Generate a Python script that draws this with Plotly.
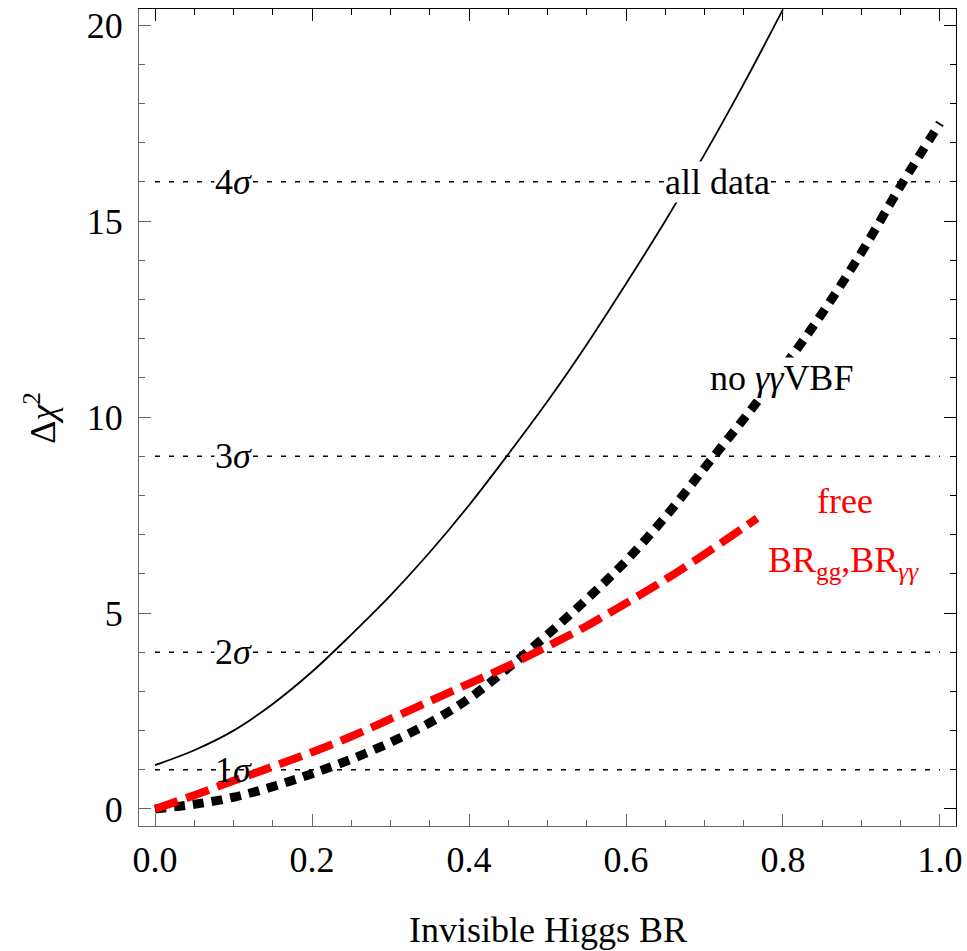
import plotly.graph_objects as go

# Delta chi^2 profiles versus the invisible Higgs branching ratio
br_all = [0.0, 0.05, 0.1, 0.15, 0.2, 0.25, 0.3, 0.35, 0.4, 0.45, 0.5, 0.55, 0.6, 0.65, 0.7, 0.75, 0.8]
chi2_all = [1.12, 1.5, 2.0, 2.68, 3.5, 4.45, 5.45, 6.55, 7.75, 9.05, 10.4, 11.85, 13.4, 15.0, 16.7, 18.5, 20.4]

br_novbf = [0.0, 0.05, 0.1, 0.15, 0.2, 0.25, 0.3, 0.35, 0.4, 0.45, 0.5, 0.55, 0.6, 0.65, 0.7, 0.75, 0.8,
            0.85, 0.9, 0.95, 1.0]
chi2_novbf = [0.0, 0.12, 0.3, 0.57, 0.9, 1.27, 1.7, 2.2, 2.82, 3.6, 4.45, 5.35, 6.33, 7.45, 8.7, 9.95, 11.25,
              12.65, 14.2, 15.9, 17.5]

br_free = [0.0, 0.05, 0.1, 0.15, 0.2, 0.25, 0.3, 0.35, 0.4, 0.45, 0.5, 0.55, 0.6, 0.65, 0.7, 0.75, 0.767]
chi2_free = [0.0, 0.35, 0.72, 1.08, 1.45, 1.85, 2.3, 2.75, 3.2, 3.65, 4.15, 4.67, 5.25, 5.85, 6.5, 7.18, 7.42]

# n-sigma reference levels
sigma_levels = [1, 4, 9, 16]
sigma_names = ["1", "2", "3", "4"]

x_ticks = [0.0, 0.2, 0.4, 0.6, 0.8, 1.0]
y_ticks = [0, 5, 10, 15, 20]

FONT = "Liberation Serif"
FS = 36
X_RANGE = [-0.0204, 1.0204]
Y_RANGE = [-0.434, 20.41]

fig = go.Figure()

fig.add_trace(go.Scatter(x=br_all, y=chi2_all, mode="lines", line=dict(color="black", width=1.8, shape="spline"),
                         showlegend=False))
fig.add_trace(go.Scatter(x=br_novbf, y=chi2_novbf, mode="lines",
                         line=dict(color="black", width=9, dash="11px,8px", shape="spline"), showlegend=False))
fig.add_trace(go.Scatter(x=br_free, y=chi2_free, mode="lines",
                         line=dict(color="#ff0000", width=8, dash="24px,9px", shape="spline"), showlegend=False))
# helper trace so the top/right frame axes are rendered
fig.add_trace(go.Scatter(x=[None], y=[None], xaxis="x2", yaxis="y2", showlegend=False, hoverinfo="skip"))

for lvl, name in zip(sigma_levels, sigma_names):
    fig.add_shape(type="line", x0=0, x1=1, y0=lvl, y1=lvl, xref="x", yref="y", layer="below",
                  line=dict(color="black", width=1.5, dash="5px,9px"))
    fig.add_annotation(x=0.1, y=lvl, xref="x", yref="y", text=f"{name}<i>σ</i>", showarrow=False,
                       font=dict(family=FONT, size=FS, color="black"),
                       bgcolor=None if name == "1" else "white", borderpad=0)

fig.add_annotation(x=0.717, y=16.0, text="all data", showarrow=False,
                   font=dict(family=FONT, size=FS, color="black"), bgcolor="white", borderpad=0)
fig.add_annotation(x=0.798, y=11.0, text="no <i>γγ</i>VBF", showarrow=False,
                   font=dict(family=FONT, size=FS, color="black"), bgcolor="white", borderpad=0)
fig.add_annotation(x=0.879, y=7.85, text="free", showarrow=False,
                   font=dict(family=FONT, size=FS, color="#ff0000"))
fig.add_annotation(x=0.877, y=6.3, text="BR<sub>gg</sub>,BR<sub><i>γγ</i></sub>", showarrow=False,
                   font=dict(family=FONT, size=FS, color="#ff0000"))

# axis titles
fig.add_annotation(x=0.5, y=-0.127, xref="paper", yref="paper", xanchor="center", yanchor="middle",
                   text="Invisible Higgs BR", showarrow=False, font=dict(family=FONT, size=FS, color="black"))
fig.add_annotation(x=-0.121, y=0.5, xref="paper", yref="paper", xanchor="center", yanchor="middle",
                   text="Δ<i>χ</i><sup>2</sup>", showarrow=False, textangle=-90,
                   font=dict(family=FONT, size=FS, color="black"))

axis_common = dict(showgrid=False, zeroline=False, ticks="inside", ticklen=12, tickwidth=1,
                   showline=True, linewidth=1.2, automargin=False)

fig.update_layout(
    width=967, height=951,
    margin=dict(l=139, r=11, t=9, b=125),
    plot_bgcolor="white", paper_bgcolor="white",
    font=dict(family=FONT, size=FS, color="black"),
    xaxis=dict(range=X_RANGE, tickvals=x_ticks, ticktext=[f"{v:.1f}" for v in x_ticks],
               linecolor="#666666", tickcolor="#666666",
               minor=dict(dtick=0.05, tick0=0, ticks="inside", ticklen=6, tickcolor="#666666"),
               ticklabelstandoff=2, **axis_common),
    yaxis=dict(range=Y_RANGE, tickvals=y_ticks, ticktext=[str(v) for v in y_ticks],
               linecolor="#666666", tickcolor="#666666",
               minor=dict(dtick=1, tick0=0, ticks="inside", ticklen=6, tickcolor="#666666"),
               ticklabelstandoff=8, **axis_common),
    xaxis2=dict(range=X_RANGE, overlaying="x", side="top", anchor="y2", showticklabels=False,
                tickvals=x_ticks, linecolor="black", tickcolor="black",
                minor=dict(dtick=0.05, tick0=0, ticks="inside", ticklen=6, tickcolor="black"),
                **axis_common),
    yaxis2=dict(range=Y_RANGE, overlaying="y", side="right", anchor="x2", showticklabels=False,
                tickvals=y_ticks, linecolor="black", tickcolor="black",
                minor=dict(dtick=1, tick0=0, ticks="inside", ticklen=6, tickcolor="black"),
                **axis_common),
)

fig.write_html("out.html")
